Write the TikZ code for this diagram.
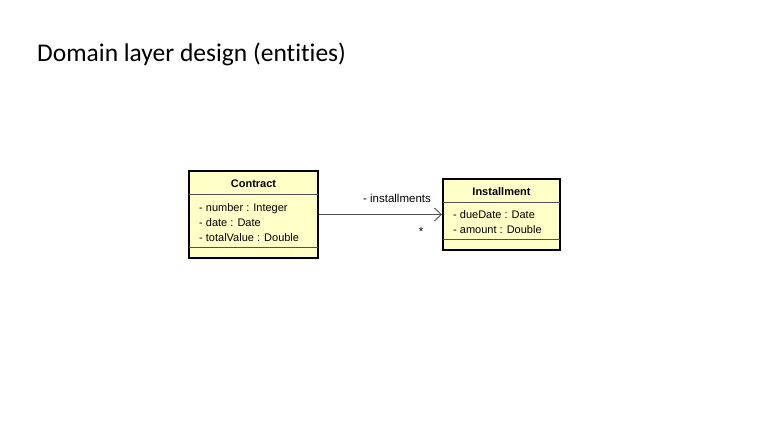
\documentclass[tikz,border=0pt]{standalone}
\usepackage{fontspec}
\setmainfont{Liberation Sans}
\newfontfamily\titlefont[Ligatures={NoCommon,NoRare,NoDiscretionary},RawFeature={-liga;-clig}]{Carlito}
\usetikzlibrary{arrows.meta}
\definecolor{classfill}{HTML}{FFFFC8}
\definecolor{divgray}{HTML}{505050}
\begin{document}
\begin{tikzpicture}[x=1pt,y=-1pt,
  classbox/.style={draw=black,line width=2pt,fill=classfill,rectangle,inner sep=0pt},
  divline/.style={draw=divgray,line width=0.9pt},
  attr/.style={anchor=base west,inner sep=0pt,font=\fontsize{11}{13}\selectfont},
  cname/.style={anchor=base,inner sep=0pt,font=\fontsize{11}{13}\selectfont\bfseries},
  assoc/.style={draw=divgray,line width=0.9pt,-{Straight Barb[length=7pt,width=13pt,line width=0.9pt]}},
  lbl/.style={inner sep=0pt,font=\fontsize{11.5}{13}\selectfont}]
\useasboundingbox[fill=white] (0,0) rectangle (758,423);
\node[anchor=base west,inner sep=0pt,font=\titlefont\fontsize{25.5}{30}\selectfont] (title) at (37,61) {Domain layer design (entities)};
% Contract
\node[classbox,minimum width=129pt,minimum height=87pt] (contract) at (253.5,214.5) {};
\draw[divline] (189,194) -- (318,194);
\draw[divline] (189,247) -- (318,247);
\node[cname] (cn) at (253.5,187) {Contract};
\node[attr] (ca1) at (199,211) {- number : Integer};
\node[attr] (ca2) at (199,226) {- date : Date};
\node[attr] (ca3) at (199,241) {- totalValue : Double};
% Installment
\node[classbox,minimum width=117pt,minimum height=71pt] (inst) at (501.5,214.5) {};
\draw[divline] (443,202) -- (560,202);
\draw[divline] (443,239) -- (560,239);
\node[cname] (in) at (501.5,195) {Installment};
\node[attr] (ia1) at (453,218) {- dueDate : Date};
\node[attr] (ia2) at (453,233) {- amount : Double};
% association
\draw[assoc] (contract.east) -- (inst.west);
\node[lbl,anchor=base] (role) at (397,202) {- installments};
\node[lbl] (mult) at (421,232) {*};
\end{tikzpicture}
\end{document}
